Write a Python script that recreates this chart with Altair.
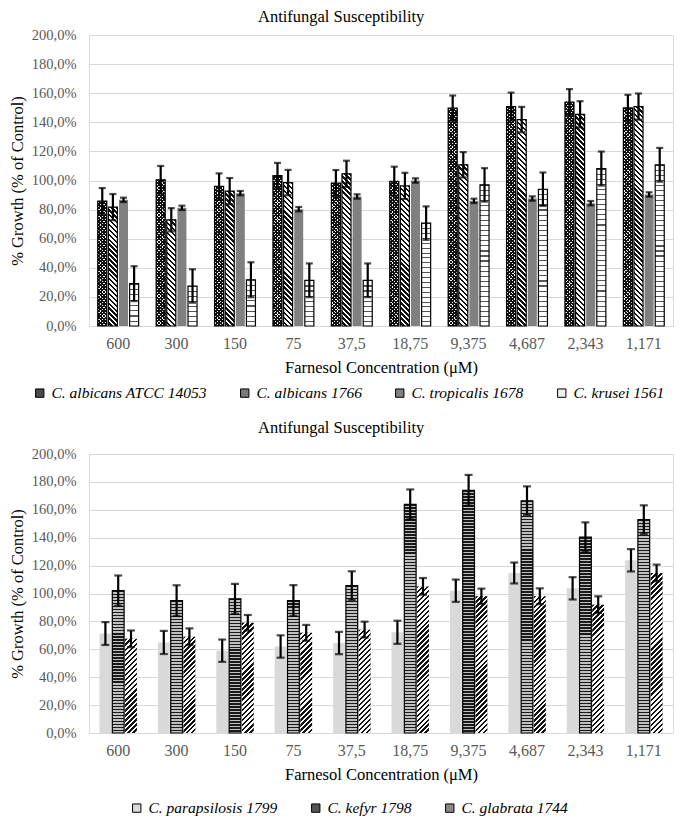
import altair as alt
import pandas as pd

# ---------------- data ----------------
conc = ["600", "300", "150", "75", "37,5", "18,75", "9,375", "4,687", "2,343", "1,171"]

top_names = ["C. albicans ATCC 14053", "C. albicans 1766", "C. tropicalis 1678", "C. krusei 1561"]
atcc = [85.8, 100.5, 95.9, 103.4, 98.2, 99.5, 149.7, 150.8, 153.8, 149.9]
atcc_err = [9.0, 9.5, 9.0, 8.7, 9.0, 10.0, 8.7, 9.6, 9.0, 9.0]
c1766 = [81.7, 73.0, 92.7, 98.6, 104.6, 96.3, 110.8, 141.9, 145.5, 150.8]
c1766_err = [9.0, 8.0, 9.0, 8.7, 9.0, 9.0, 8.7, 8.7, 9.0, 9.0]
trop = [86.7, 81.2, 91.3, 80.3, 89.0, 100.0, 86.0, 87.6, 84.4, 90.4]
trop_err = [1.5, 1.5, 1.5, 1.5, 1.5, 1.5, 1.5, 1.5, 1.5, 1.5]
krusei = [29.1, 27.5, 31.8, 31.4, 31.4, 70.7, 97.0, 94.0, 108.2, 110.8]
krusei_err = [12.0, 11.5, 12.0, 11.6, 11.6, 11.5, 11.5, 11.5, 11.7, 11.6]

bottom_names = ["C. parapsilosis 1799", "C. kefyr 1798", "C. glabrata 1744"]
parap = [71.3, 64.9, 59.0, 62.0, 64.5, 72.2, 102.0, 114.7, 103.7, 123.8]
parap_err = [8.2, 8.3, 8.0, 8.0, 8.0, 8.3, 8.0, 7.5, 8.0, 8.0]
kefyr = [102.1, 94.9, 96.2, 95.0, 105.6, 163.9, 174.0, 166.5, 140.5, 152.9]
kefyr_err = [10.8, 11.0, 10.7, 11.0, 10.3, 10.7, 11.0, 10.3, 10.5, 10.3]
glab = [67.5, 69.0, 79.0, 71.8, 74.1, 105.1, 98.0, 98.0, 92.0, 114.7]
glab_err = [6.0, 6.0, 5.6, 5.7, 5.7, 6.0, 5.5, 5.7, 6.0, 6.0]

FONT = "Liberation Serif"
W = 584


def make_df(names, vals, errs):
    rows = []
    for n, vs, es in zip(names, vals, errs):
        for c, v, e in zip(conc, vs, es):
            rows.append({"conc": c, "series": n, "value": v, "err": e})
    return pd.DataFrame(rows)


def stripe_stops(n, frac, c_on, c_off):
    stops = []
    for i in range(n):
        t0 = i / n
        t1 = (i + frac) / n
        t2 = (i + 1) / n
        stops += [
            {"offset": round(t0, 5), "color": c_on},
            {"offset": round(t1, 5), "color": c_on},
            {"offset": round(t1, 5), "color": c_off},
            {"offset": round(t2, 5), "color": c_off},
        ]
    return stops


def grad_h(w, h, period, frac, c_on, c_off):
    n = max(1, round(h / period))
    return {"gradient": "linear", "x1": 0, "y1": 0, "x2": 0, "y2": 1,
            "stops": stripe_stops(n, frac, c_on, c_off)}


def grad_d(w, h, period, frac, c_on, c_off, direction):
    a = w / h
    s = (1 + a) / (1 + a * a)
    n = max(1, round(h * (1 + a) / period))
    if direction == "/":
        x1, y1, x2, y2 = 0, 0, a * s, s
    else:
        x1, y1, x2, y2 = 1, 0, 1 - a * s, s
    return {"gradient": "linear", "x1": round(x1, 5), "y1": y1, "x2": round(x2, 5), "y2": round(y2, 5),
            "stops": stripe_stops(n, frac, c_on, c_off)}


def panel(names, vals, errs, colors, outlined, textures, H, x_pi, off_pi, cap,
          leg_x, leg_y, col_pad, title_offset):
    df = make_df(names, vals, errs)
    step = W / len(conc)
    band = (1 - x_pi) * step
    off_step = band / (len(names) - off_pi)
    bar_w = (1 - off_pi) * off_step

    x_axis = alt.Axis(title="Farnesol Concentration (μM)", labelAngle=0, ticks=False, domain=False,
                      grid=False,
                      labelFont=FONT, labelFontSize=16, labelColor="#595959", labelPadding=9,
                      titleFont=FONT, titleFontSize=16.5, titleFontWeight="normal", titleColor="#000000",
                      titlePadding=8)
    y_axis = alt.Axis(title="% Growth (% of Control)", values=list(range(0, 201, 20)),
                      labelExpr="replace(format(datum.value, '.1f'), '.', ',') + '%'",
                      ticks=False, domain=False, grid=True, gridColor="#d9d9d9", gridWidth=1,
                      labelFont=FONT, labelFontSize=14.5, labelColor="#595959", labelPadding=13,
                      titleFont=FONT, titleFontSize=16.5, titleFontWeight="normal", titleColor="#000000",
                      titlePadding=6)
    xs = alt.Scale(type="band", domain=conc, paddingInner=x_pi, paddingOuter=x_pi / 2)
    xos = alt.Scale(type="band", domain=names, paddingInner=off_pi, paddingOuter=0)
    ys = alt.Scale(type="linear", domain=[0, 200], nice=False, zero=True)

    X = alt.X("conc:N", sort=conc, scale=xs, axis=x_axis)
    XO = alt.XOffset("series:N", sort=names, scale=xos)
    Y = alt.Y("value:Q", scale=ys, axis=y_axis)

    base = alt.Chart(df).mark_bar().encode(
        x=X, xOffset=XO, y=Y,
        color=alt.Color("series:N", sort=names,
                        scale=alt.Scale(domain=names, range=colors),
                        legend=alt.Legend(orient="none", direction="horizontal", title=None,
                                          legendX=leg_x, legendY=leg_y,
                                          labelFont=FONT, labelFontSize=15.5, labelColor="#000000",
                                          labelFontStyle="italic",
                                          symbolType="square", symbolSize=70,
                                          symbolStrokeColor="#000000", symbolStrokeWidth=1,
                                          columnPadding=col_pad, labelLimit=0)),
    )

    layers = [base]
    for sname, specs in textures.items():
        idx = names.index(sname)
        for i, c in enumerate(conc):
            h = vals[idx][i] * H / 200.0
            for spec in specs:
                kind = spec[0]
                if kind == "h":
                    g = grad_h(bar_w, h, *spec[1:])
                else:
                    g = grad_d(bar_w, h, *spec[1:])
                layers.append(
                    alt.Chart(df)
                    .transform_filter((alt.datum.series == sname) & (alt.datum.conc == c))
                    .mark_bar(fill=g, strokeWidth=0)
                    .encode(x=X, xOffset=XO, y=Y)
                )

    outline = (
        alt.Chart(df)
        .transform_filter(alt.FieldOneOfPredicate(field="series", oneOf=outlined))
        .mark_bar(fillOpacity=0, stroke="#000000", strokeWidth=1.2)
        .encode(x=X, xOffset=XO, y=Y)
    )
    layers.append(outline)

    eb = alt.Chart(df).transform_calculate(lo="datum.value - datum.err", hi="datum.value + datum.err")
    rule = eb.mark_rule(color="#000000", strokeWidth=2.2).encode(
        x=X, xOffset=XO, y=alt.Y("lo:Q", scale=ys, axis=y_axis), y2="hi:Q")
    cap_lo = eb.mark_tick(color="#000000", thickness=2.2, size=cap, orient="horizontal").encode(
        x=X, xOffset=XO, y=alt.Y("lo:Q", scale=ys, axis=y_axis))
    cap_hi = eb.mark_tick(color="#000000", thickness=2.2, size=cap, orient="horizontal").encode(
        x=X, xOffset=XO, y=alt.Y("hi:Q", scale=ys, axis=y_axis))
    layers += [rule, cap_lo, cap_hi]

    return alt.layer(*layers).properties(
        width=W, height=H,
        title=alt.TitleParams("Antifungal Susceptibility", font=FONT, fontSize=16.5, fontWeight="normal",
                              color="#000000", anchor="middle", frame="bounds", offset=title_offset),
    )


top = panel(
    top_names, [atcc, c1766, trop, krusei], [atcc_err, c1766_err, trop_err, krusei_err],
    ["#4a4a4a", "#7a7a7a", "#808080", "#eeeeee"],
    ["C. albicans ATCC 14053", "C. albicans 1766", "C. krusei 1561"],
    {
        "C. albicans ATCC 14053": [("d", 3.4, 0.55, "#111111", "#f4f4f4", "\\"),
                                   ("d", 3.4, 0.55, "#111111", "rgba(0,0,0,0)", "/")],
        "C. albicans 1766": [("d", 5.0, 0.5, "#111111", "#ffffff", "\\")],
        "C. krusei 1561": [("h", 5.0, 0.22, "#555555", "#ffffff")],
    },
    291, 0.3, 0.15, 7, -57, 350, 30, 2,
)

bottom = panel(
    bottom_names, [parap, kefyr, glab], [parap_err, kefyr_err, glab_err],
    ["#d9d9d9", "#555555", "#8a8a8a"],
    ["C. kefyr 1798"],
    {
        "C. kefyr 1798": [("h", 3.0, 0.5, "#1a1a1a", "#c0c0c0")],
        "C. glabrata 1744": [("d", 5.0, 0.5, "#111111", "#ffffff", "/")],
    },
    279, 0.36, 0.08, 8, 40, 346, 30, 10,
)

chart = (
    alt.vconcat(top, bottom, spacing=16)
    .resolve_scale(color="independent", xOffset="independent", x="independent", y="independent")
    .resolve_legend(color="independent")
    .properties(padding={"left": 0, "top": 0, "right": 0, "bottom": 0})
    .configure_view(strokeWidth=0)
    .configure(background="#ffffff")
)

chart.save("out.html", embed_options={"renderer": "svg", "actions": False})
